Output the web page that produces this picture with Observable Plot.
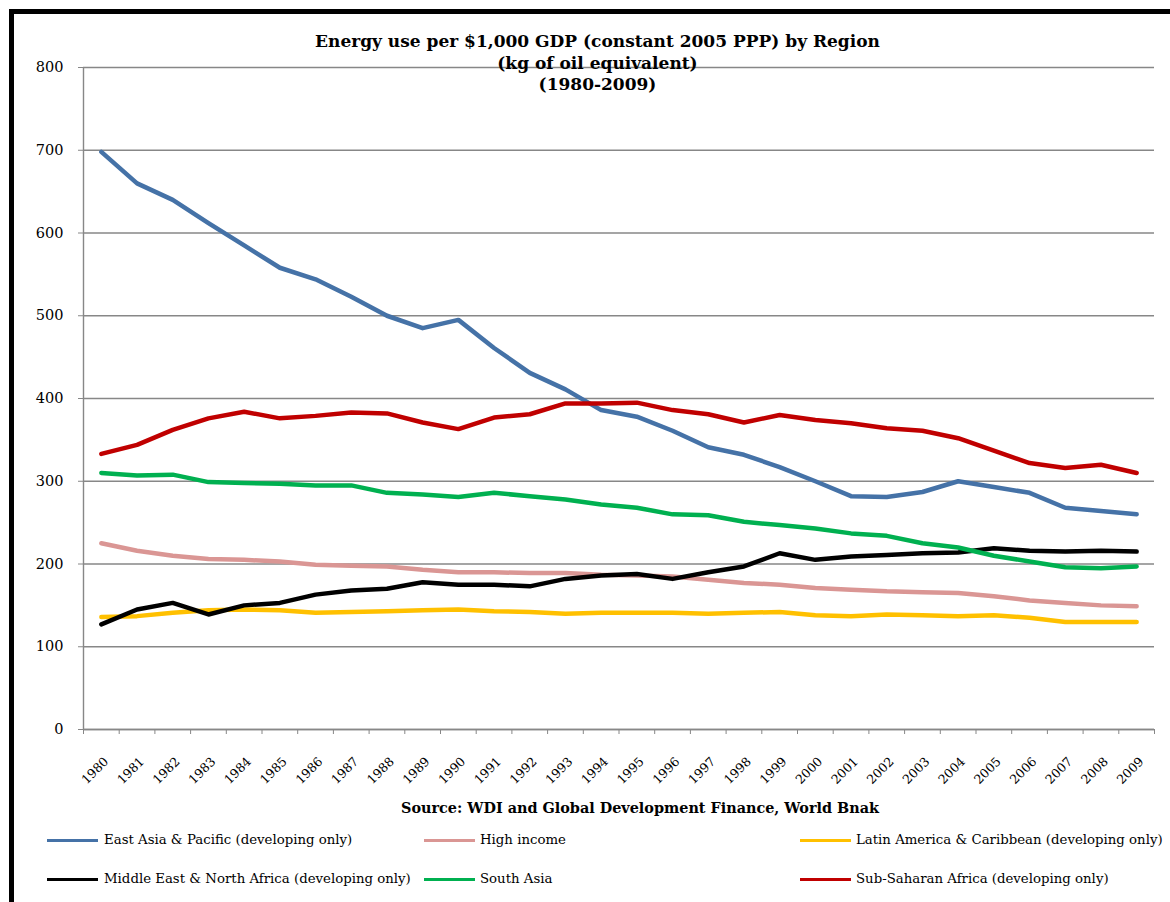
<!DOCTYPE html>
<html><head><meta charset="utf-8">
<script src="https://cdn.jsdelivr.net/npm/d3@7"></script>
<script src="https://cdn.jsdelivr.net/npm/@observablehq/plot@0.6"></script>
<style>
body{margin:0;background:#fff;}
#wrap{position:relative;width:1170px;height:902px;overflow:hidden;font-family:"DejaVu Serif","Liberation Serif",serif;color:#000;}
#frame{position:absolute;left:9px;top:9px;width:1300px;height:1000px;border-left:5px solid #000;border-top:5px solid #000;}
#title{position:absolute;left:0;width:1195px;top:31px;text-align:center;font-weight:bold;font-size:17px;line-height:21.5px;}
#chart{position:absolute;left:0;top:0;}
#source{position:absolute;left:0;width:1280px;top:798px;text-align:center;font-weight:bold;font-size:14.4px;line-height:20px;}
.leg{position:absolute;font-size:13.3px;line-height:20px;white-space:nowrap;}
.sw{position:absolute;width:51px;height:3px;}
</style></head>
<body>
<div id="wrap">
  <div id="frame"></div>
  <div id="chart"></div>
  <div id="title">Energy use per $1,000 GDP (constant 2005 PPP) by Region<br>(kg of oil equivalent)<br>(1980-2009)</div>
  <div id="source">Source: WDI and Global Development Finance, World Bnak</div>
  <div id="legend"></div>
</div>
<script>
const years = [1980,1981,1982,1983,1984,1985,1986,1987,1988,1989,1990,1991,1992,1993,1994,1995,1996,1997,1998,1999,2000,2001,2002,2003,2004,2005,2006,2007,2008,2009];
const seriesNames = [
  "East Asia & Pacific (developing only)",
  "High income",
  "Latin America & Caribbean (developing only)",
  "Middle East & North Africa (developing only)",
  "South Asia",
  "Sub-Saharan Africa (developing only)"
];
const seriesColors = ["#4572A7","#DA9694","#FFC000","#000000","#00B050","#C00000"];
const eastAsia = [698,660,640,612,585,558,544,523,500,485,495,461,431,411,386,378,361,341,332,317,300,282,281,287,300,293,286,268,264,260];
const highIncome = [225,216,210,206,205,203,199,198,197,193,190,190,189,189,187,186,185,181,177,175,171,169,167,166,165,161,156,153,150,149];
const latinAmerica = [136,137,141,144,145,144,141,142,143,144,145,143,142,140,141,141,141,140,141,142,138,137,139,138,137,138,135,130,130,130];
const mena = [127,145,153,139,150,153,163,168,170,178,175,175,173,182,186,188,182,190,197,213,205,209,211,213,214,219,216,215,216,215];
const southAsia = [310,307,308,299,298,297,295,295,286,284,281,286,282,278,272,268,260,259,251,247,243,237,234,225,220,210,203,196,195,197];
const subSaharan = [333,344,362,376,384,376,379,383,382,371,363,377,381,394,394,395,386,381,371,380,374,370,364,361,352,337,322,316,320,310];
const yTicks = [0,100,200,300,400,500,600,700,800];

const seriesValues = [eastAsia, highIncome, latinAmerica, mena, southAsia, subSaharan];
const data = [];
seriesNames.forEach((name, i) => {
  years.forEach((yr, j) => data.push({series: name, year: yr, value: seriesValues[i][j]}));
});
const boundaries = years.map(y => y - 0.5).concat([years[years.length - 1] + 0.5]);
const grey = "#878787";
const font = '"DejaVu Serif","Liberation Serif",serif';

const chart = Plot.plot({
  width: 1170, height: 790,
  marginLeft: 83, marginRight: 16, marginTop: 67, marginBottom: 61,
  x: {domain: [years[0] - 0.5, years[years.length - 1] + 0.5]},
  y: {domain: [0, 800]},
  color: {domain: seriesNames, range: seriesColors},
  style: {fontFamily: font, fontSize: "14px", color: "#000", background: "transparent", overflow: "visible"},
  marks: [
    Plot.gridY(yTicks, {stroke: grey, strokeOpacity: 1, strokeWidth: 1.4}),
    Plot.axisY(yTicks, {tickSize: 5, tickPadding: 15, stroke: grey, fill: "#000", fontSize: 14.5, tickFormat: d => String(d), label: null}),
    Plot.axisX(boundaries, {tickSize: 5, stroke: grey, tickFormat: () => "", label: null}),
    Plot.text(years, {x: d => d, y: () => 0, text: d => String(d), rotate: -45, textAnchor: "end", lineAnchor: "middle", dx: 5, dy: 30, fontSize: 12.5, fill: "#000"}),
    Plot.ruleX([years[0] - 0.5], {stroke: grey, strokeWidth: 1.4}),
    Plot.ruleY([0], {stroke: grey, strokeWidth: 1.4}),
    Plot.line(data, {x: "year", y: "value", z: "series", stroke: "series", strokeWidth: 4.5, strokeLinejoin: "round", strokeLinecap: "round"})
  ]
});
document.getElementById("chart").appendChild(chart);

const legendPos = [
  {sx: 47, tx: 104, y: 840}, {sx: 424, tx: 480, y: 840}, {sx: 800, tx: 856, y: 840},
  {sx: 47, tx: 104, y: 879}, {sx: 424, tx: 480, y: 879}, {sx: 800, tx: 856, y: 879}
];
const leg = document.getElementById("legend");
seriesNames.forEach((name, i) => {
  const p = legendPos[i];
  const sw = document.createElement("div");
  sw.className = "sw";
  sw.style.left = p.sx + "px"; sw.style.top = (p.y - 1.5) + "px"; sw.style.background = seriesColors[i];
  leg.appendChild(sw);
  const t = document.createElement("div");
  t.className = "leg";
  t.style.left = p.tx + "px"; t.style.top = (p.y - 10) + "px";
  t.textContent = name;
  leg.appendChild(t);
});
</script>
</body></html>
